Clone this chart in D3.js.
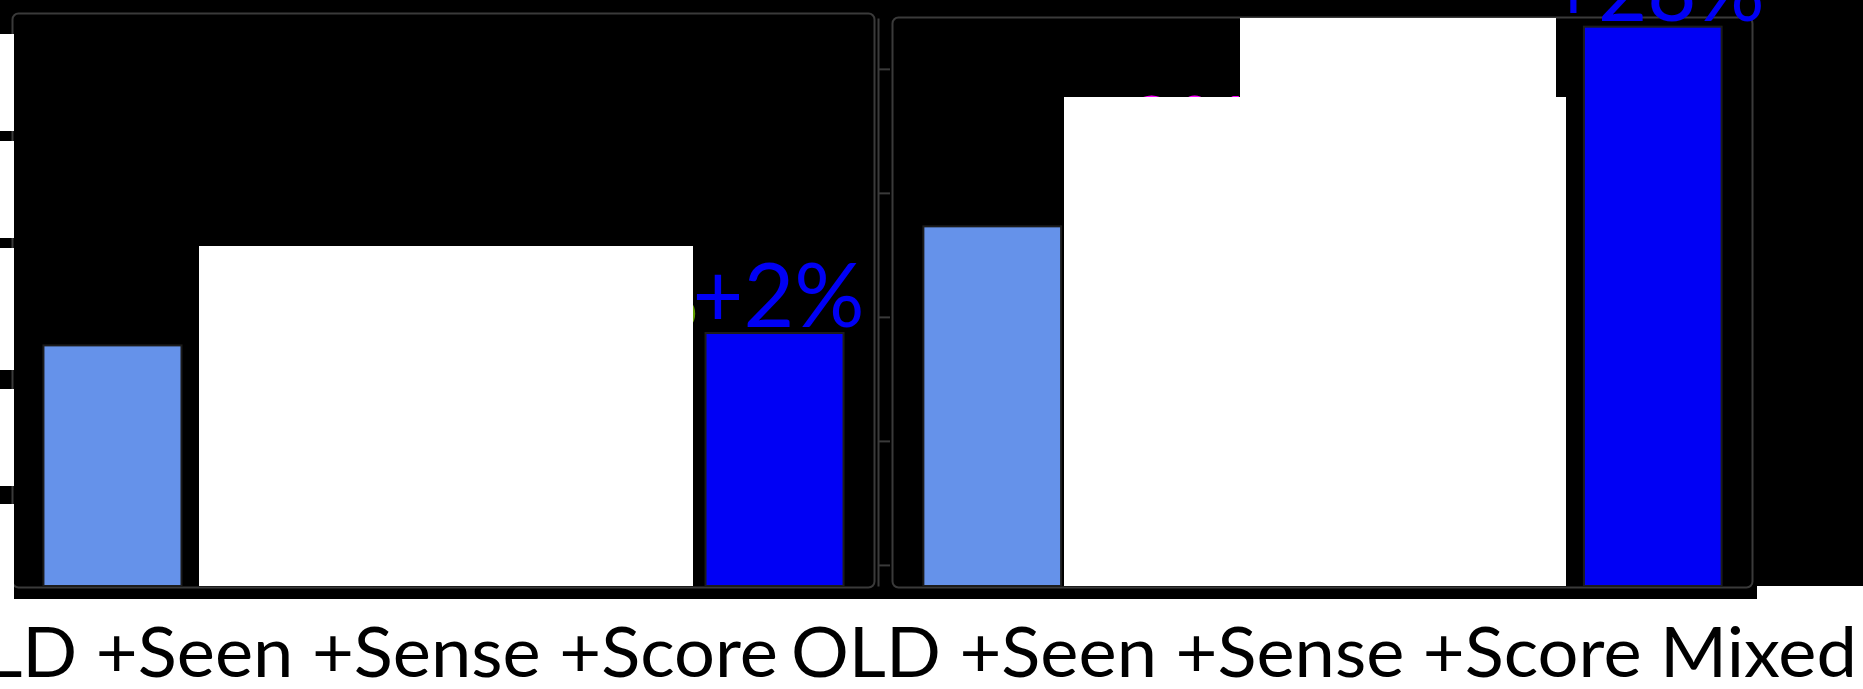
<!DOCTYPE html>
<html>
<head>
<meta charset="utf-8">
<script src="https://cdn.jsdelivr.net/npm/d3@7/dist/d3.min.js"></script>
<style>
  html, body { margin: 0; padding: 0; background: #ffffff; }
  svg { display: block; }
</style>
</head>
<body>
<div id="chart"></div>
<script>
// ---- data ----
const categories = ["OLD", "+Seen", "+Sense", "+Score", "Mixed"];
const leftValues = [47.7, 48.4, 48.6, 48.5, 48.7];
const rightValues = [57.3, 62.2, 65.5, 66.5, 73.4];
const leftNotes = ["", "", "", "+2%", "+2%"];
const rightNotes = ["", "+9%", "", "", "+28%"];
const yTicks = [30, 40, 50, 60, 70];
const leftRowLabels = ["OLD", "+Seen", "+Sense", "+Score"];
const rightRowLabels = ["OLD", "+Seen", "+Sense", "+Score", "Mixed"];
const barColors = ["#6592ea", "#ff00ff", "#b22222", "#5f9e00", "#0000f5"];

// ---- layout ----
const W = 1863, H = 689;
const baseY = 586, topY = 18;
const panels = [
  { x0: 12, x1: 875, top: 13, values: leftValues, notes: leftNotes },
  { x0: 892, x1: 1753, top: 17, values: rightValues, notes: rightNotes }
];

const svg = d3.select("#chart").append("svg")
  .attr("width", W).attr("height", H);

svg.append("rect").attr("width", W).attr("height", H).attr("fill", "#fff");

// dark backdrop of the plotting area
svg.append("rect").attr("x", 0).attr("y", 0).attr("width", 1757).attr("height", 599).attr("fill", "#000");
svg.append("rect").attr("x", 1757).attr("y", 0).attr("width", W - 1757).attr("height", 586).attr("fill", "#000");

const y = d3.scaleLinear().domain([28.3, 74.1]).range([baseY, topY]);

panels.forEach((p) => {
  const g = svg.append("g");
  // panel frame
  g.append("rect")
    .attr("x", p.x0 + 0.5).attr("y", p.top + 0.5)
    .attr("width", p.x1 - p.x0 - 1).attr("height", baseY + 1 - p.top)
    .attr("rx", 6)
    .attr("fill", "none").attr("stroke", "#3a3a3a").attr("stroke-width", 2);

  const x = d3.scaleBand().domain(categories).range([p.x0, p.x1])
    .paddingInner(0.166).paddingOuter(0.19);

  g.selectAll("rect.bar").data(categories).join("rect")
    .attr("class", "bar")
    .attr("x", d => x(d))
    .attr("width", x.bandwidth())
    .attr("y", (d, i) => y(p.values[i]))
    .attr("height", (d, i) => baseY - y(p.values[i]))
    .attr("fill", (d, i) => barColors[i])
    .attr("stroke", "#1c1c1c").attr("stroke-width", 2);

  // percentage change above each bar
  g.selectAll("text.note").data(categories).join("text")
    .attr("class", "note")
    .attr("x", d => x(d) + x.bandwidth() / 2 + 4)
    .attr("y", (d, i) => y(p.values[i]) - 6)
    .attr("text-anchor", "middle")
    .attr("font-family", "Lato, 'Open Sans', sans-serif")
    .attr("font-size", 90)
    .attr("fill", (d, i) => barColors[i])
    .attr("textLength", (d, i) => p.notes[i] ? 40 + 44 * p.notes[i].length : null)
    .attr("lengthAdjust", "spacingAndGlyphs")
    .text((d, i) => p.notes[i]);
});

// value axis of the second panel (unlabelled ticks)
const axisG = svg.append("g").attr("transform", "translate(878,0)")
  .call(d3.axisLeft(y).tickValues(yTicks).tickSize(-12).tickSizeOuter(0).tickFormat(""));
axisG.selectAll("path, line").attr("stroke", "#3a3a3a").attr("stroke-width", 2);

// blank panels laid over the plot
const blanks = [
  [0, 34, 14, 97], [0, 141, 14, 97], [0, 248, 14, 122], [0, 389, 14, 97], [0, 504, 14, 185],
  [199, 246, 494, 340],
  [1064, 97, 502, 489],
  [1240, 18, 316, 80]
];
svg.selectAll("rect.blank").data(blanks).join("rect")
  .attr("class", "blank")
  .attr("x", d => d[0]).attr("y", d => d[1])
  .attr("width", d => d[2]).attr("height", d => d[3])
  .attr("fill", "#fff");

// category rows under the panels, both at one common horizontal scale
const rowFont = "Lato, 'Open Sans', sans-serif";
const rowLeft = svg.append("text")
  .attr("x", 778).attr("y", 677)
  .attr("text-anchor", "end")
  .attr("font-family", rowFont).attr("font-size", 70).attr("fill", "#000")
  .text(leftRowLabels.join(" "));
const rowRight = svg.append("text")
  .attr("x", 791).attr("y", 677)
  .attr("text-anchor", "start")
  .attr("font-family", rowFont).attr("font-size", 70).attr("fill", "#000")
  .text(rightRowLabels.join(" "));
const rightSpan = 1066;
const k = rightSpan / rowRight.node().getComputedTextLength();
const leftSpan = rowLeft.node().getComputedTextLength() * k;
rowRight.attr("textLength", rightSpan).attr("lengthAdjust", "spacingAndGlyphs");
rowLeft.attr("textLength", leftSpan).attr("lengthAdjust", "spacingAndGlyphs");
</script>
</body>
</html>
